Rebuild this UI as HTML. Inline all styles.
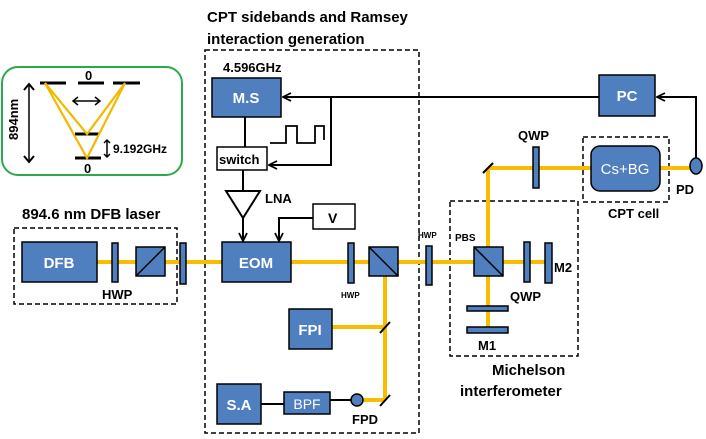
<!DOCTYPE html>
<html><head><style>
html,body{margin:0;padding:0;background:#fff;}
svg{display:block;font-family:"Liberation Sans",sans-serif;}
</style></head><body>
<svg width="706" height="439" viewBox="0 0 706 439" xmlns="http://www.w3.org/2000/svg">
<defs>
<marker id="ah" markerWidth="10" markerHeight="10" refX="9" refY="5" orient="auto" markerUnits="userSpaceOnUse">
<path d="M1,1 L9,5 L1,9" fill="none" stroke="#000" stroke-width="1.8"/>
</marker>
</defs>
<!-- green energy box -->
<rect x="2" y="67" width="180" height="108" rx="16" fill="none" stroke="#2ea84a" stroke-width="2"/>
<g stroke="#000" stroke-width="3">
<line x1="40" y1="83" x2="66" y2="83"/><line x1="78" y1="83" x2="104" y2="83"/><line x1="113" y1="83" x2="140" y2="83"/>
<line x1="75" y1="134" x2="99" y2="134"/><line x1="75" y1="158" x2="101" y2="158"/>
</g>
<g stroke="#f5b800" stroke-width="2.2" fill="none">
<path d="M45,83 L87,134 L125,83"/><path d="M45,83 L87,158 L125,83"/>
</g>
<g stroke="#000" stroke-width="1.5" fill="none">
<line x1="73" y1="101" x2="100" y2="101"/><path d="M78,97 L73,101 L78,105 M95,97 L100,101 L95,105"/>
<line x1="29" y1="84" x2="29" y2="162"/><path d="M24,90 L29,84 L34,90 M24,156 L29,162 L34,156" stroke-width="2"/>
<line x1="107" y1="140" x2="107" y2="157"/><path d="M104,143 L107,140 L110,143 M104,154 L107,157 L110,154"/>
</g>
<g font-weight="bold" font-size="13" fill="#000">
<text x="85" y="80">0</text><text x="84" y="173">0</text>
<text x="113" y="153" font-size="12">9.192GHz</text>
<text transform="translate(18,140) rotate(-90)" font-size="13">894nm</text>
</g>
<!-- titles -->
<g font-weight="bold" font-size="15" fill="#000">
<text x="207" y="22">CPT sidebands and Ramsey</text>
<text x="207" y="44">interaction generation</text>
<text x="22" y="219">894.6 nm DFB laser</text>
<text x="492" y="375">Michelson</text>
<text x="460" y="396">interferometer</text>
</g>
<!-- dashed boxes -->
<g fill="none" stroke="#000" stroke-width="1.5" stroke-dasharray="5,3">
<rect x="205" y="50" width="214" height="383"/>
<rect x="14" y="228" width="163" height="76"/>
<rect x="450" y="201" width="128" height="155"/>
<rect x="583" y="137" width="86" height="65"/>
</g>
<!-- beams -->
<g stroke="#f8bd00" stroke-width="4" fill="none">
<line x1="97" y1="262" x2="222" y2="262"/>
<line x1="291" y1="262" x2="546" y2="262"/>
<line x1="385" y1="262" x2="385" y2="400"/>
<line x1="332" y1="327" x2="385" y2="327"/>
<line x1="360" y1="400" x2="385" y2="400"/>
<line x1="488" y1="168" x2="488" y2="330"/>
<line x1="488" y1="168" x2="691" y2="168"/>
</g>
<!-- electrical lines -->
<g stroke="#000" stroke-width="2" fill="none">
<line x1="599" y1="97" x2="283" y2="97" marker-end="url(#ah)"/>
<polyline points="331,97 331,165 269,165" marker-end="url(#ah)"/>
<path d="M696,160 L696,97 L657,97" marker-end="url(#ah)"/>
<line x1="245" y1="117" x2="245" y2="147"/>
<line x1="243" y1="170" x2="243" y2="191"/>
<line x1="243" y1="218" x2="243" y2="241" marker-end="url(#ah)"/>
<polyline points="313,218 279,218 279,241" marker-end="url(#ah)"/>
<path d="M226,191 L260,191 L243,218 Z"/>
<path d="M270,143 L286,143 L286,126 L297,126 L297,143 L315,143 L315,126 L324,126 L324,140" stroke-width="1.8"/>
<line x1="261" y1="404" x2="284" y2="404"/>
<line x1="330" y1="400" x2="351" y2="400"/>
</g>
<!-- mirrors -->
<g stroke="#000" stroke-width="2">
<line x1="380" y1="333" x2="390" y2="322"/>
<line x1="380" y1="406" x2="390" y2="395"/>
<line x1="483" y1="173" x2="493" y2="163"/>
</g>
<!-- blue boxes -->
<g fill="#4f7fbf" stroke="#000" stroke-width="1.5">
<rect x="212" y="78" width="69" height="39"/>
<rect x="599" y="75" width="56" height="41"/>
<rect x="22" y="242" width="75" height="40"/>
<rect x="222" y="242" width="69" height="40"/>
<rect x="289" y="309" width="43" height="40"/>
<rect x="217" y="384" width="44" height="40"/>
<rect x="284" y="392" width="46" height="22"/>
<rect x="591" y="146" width="69" height="45" rx="9"/>
<rect x="136" y="247" width="29" height="29"/>
<rect x="369" y="247" width="29" height="29"/>
<rect x="474" y="247" width="29" height="29"/>
<rect x="112" y="243" width="6" height="39"/>
<rect x="180" y="243" width="6" height="41"/>
<rect x="348" y="243" width="6" height="40"/>
<rect x="426" y="246" width="6" height="39"/>
<rect x="533" y="147" width="6" height="41"/>
<rect x="524" y="242" width="6" height="40"/>
<rect x="545" y="243" width="7" height="40"/>
<rect x="467" y="306" width="41" height="5"/>
<rect x="467" y="327" width="41" height="6"/>
<circle cx="357" cy="400" r="6"/>
<ellipse cx="696" cy="166" rx="6" ry="8"/>
</g>
<g stroke="#000" stroke-width="1.5">
<line x1="136" y1="276" x2="165" y2="247"/>
<line x1="369" y1="247" x2="398" y2="276"/>
<line x1="474" y1="247" x2="503" y2="276"/>
</g>
<!-- white boxes -->
<g fill="#fff" stroke="#000" stroke-width="1.5">
<rect x="217" y="147" width="50" height="23"/>
<rect x="313" y="204" width="42" height="25"/>
</g>
<!-- labels -->
<g font-weight="bold" fill="#fff" font-size="15" text-anchor="middle">
<text x="246" y="103">M.S</text>
<text x="627" y="101">PC</text>
<text x="59" y="268">DFB</text>
<text x="256" y="268">EOM</text>
<text x="310" y="335">FPI</text>
<text x="239" y="410">S.A</text>
<text x="307" y="409" font-weight="normal" font-size="14">BPF</text>
<text x="625" y="174" font-weight="normal" font-size="15">Cs+BG</text>
</g>
<g font-weight="bold" fill="#000" font-size="13">
<text x="223" y="72">4.596GHz</text>
<text x="219" y="164">switch</text>
<text x="265" y="203">LNA</text>
<text x="328" y="223" font-size="14">V</text>
<text x="102" y="299">HWP</text>
<text x="341" y="298" font-size="8">HWP</text>
<text x="418" y="238" font-size="8">HWP</text>
<text x="352" y="424">FPD</text>
<text x="518" y="140">QWP</text>
<text x="455" y="241" font-size="10">PBS</text>
<text x="554" y="272">M2</text>
<text x="510" y="301">QWP</text>
<text x="478" y="350">M1</text>
<text x="608" y="218">CPT cell</text>
<text x="676" y="194">PD</text>
</g>
</svg>
</body></html>
